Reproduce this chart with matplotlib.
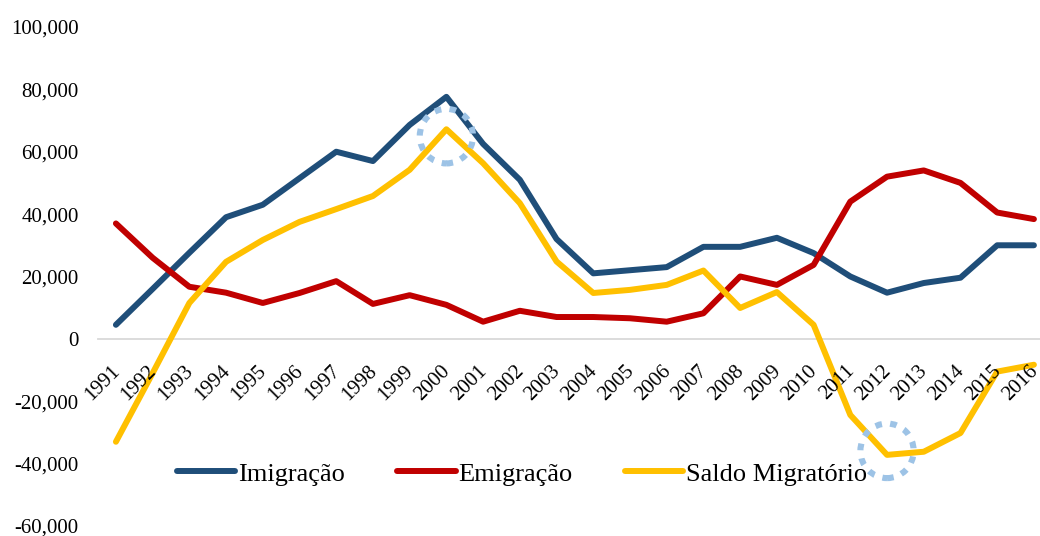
import matplotlib
matplotlib.use("Agg")
import matplotlib.pyplot as plt
from matplotlib.patches import Ellipse
from matplotlib.ticker import FuncFormatter

years = [str(y) for y in range(1991, 2017)]
imigracao = [4500, 16000, 27600, 39000, 43000, 51500, 60000, 57000, 68600, 77600,
             62500, 51000, 32000, 21000, 22000, 23000, 29500, 29500, 32400, 27500,
             20000, 14800, 17900, 19600, 30000, 30000]
emigracao = [37000, 26000, 16700, 14800, 11500, 14700, 18500, 11200, 14000, 10900,
             5500, 9000, 7000, 7000, 6600, 5500, 8200, 20000, 17300, 23700,
             44000, 52000, 54000, 50000, 40500, 38400]
saldo = [-33000, -11000, 11500, 24700, 31700, 37500, 41600, 45800, 54200, 67200,
         56300, 43500, 24800, 14700, 15700, 17300, 21900, 9900, 15000, 4500,
         -24400, -37200, -36200, -30200, -10500, -8300]
series_names = ["Imigração", "Emigração", "Saldo Migratório"]
colors = ["#1F4E79", "#C00000", "#FFC000"]
y_ticks = [-60000, -40000, -20000, 0, 20000, 40000, 60000, 80000, 100000]
highlight_years = ["2000", "2012"]

plt.rcParams["font.family"] = ["Liberation Serif", "DejaVu Serif"]

fig = plt.figure(figsize=(10.4, 5.36), dpi=100)
ax = fig.add_axes([0.0938, 0.0187, 0.918, 0.931])

x = list(range(len(years)))
for vals, name, c in zip([imigracao, emigracao, saldo], series_names, colors):
    ax.plot(x, vals, color=c, lw=4.3, label=name, solid_capstyle="round",
            solid_joinstyle="round")

ax.set_xlim(-0.5, len(years) - 0.5)
ax.set_ylim(-60000, 100000)
ax.set_yticks(y_ticks)
ax.yaxis.set_major_formatter(FuncFormatter(lambda v, p: f"{int(v):,}"))
ax.tick_params(axis="y", length=0, pad=13.5, labelsize=15)
ax.set_xticks([])
for s in ["left", "right", "top"]:
    ax.spines[s].set_visible(False)
ax.spines["bottom"].set_position(("data", 0))
ax.spines["bottom"].set_color("#D9D9D9")
ax.spines["bottom"].set_linewidth(1.3)
ax.spines["bottom"].set_zorder(0.5)

for i, yr in enumerate(years):
    ax.annotate(yr, xy=(i, 0), xytext=(0.8, -21), textcoords="offset points",
                rotation=45, ha="right", va="center", rotation_mode="anchor",
                fontsize=15, color="black")

# dotted highlight circles around the peak and trough of the migration balance
for yr, dy in zip(highlight_years, [-2200, 1300]):
    i = years.index(yr)
    ell = Ellipse((i, saldo[i] + dy), width=1.45, height=17500, fill=False,
                  edgecolor="#9DC3E6", lw=4.4, linestyle=(0, (1.1, 1.35)),
                  capstyle="butt", zorder=5)
    ax.add_patch(ell)

fig.legend(loc="center", bbox_to_anchor=(0.502, 0.116), ncol=3, frameon=False,
           fontsize=19, handlelength=2.2, handletextpad=0.1, columnspacing=2.0)

fig.savefig("out.png", dpi=100)
